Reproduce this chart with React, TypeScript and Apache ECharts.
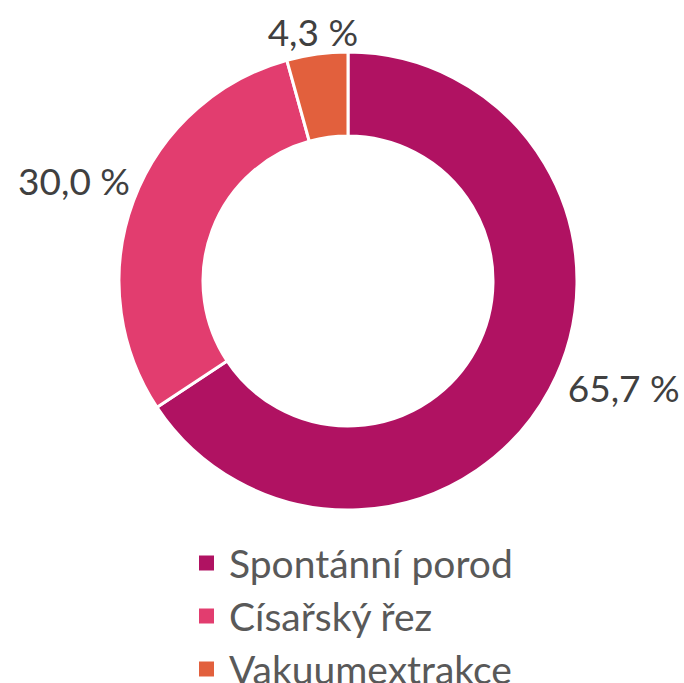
import React, { useEffect, useRef } from "react";
import * as echarts from "echarts";

const categories = ["Spontánní porod", "Císařský řez", "Vakuumextrakce"];
const values = [65.7, 30.0, 4.3];
const colors = ["#B01262", "#E23D6F", "#E2603D"];

// small label nudges (px) relative to ECharts' outside label anchor
const labelNudgeX = [6, 9, 47];
const labelNudgeY = [-6, -17, -15];

export default function App() {
  const ref = useRef<HTMLDivElement>(null);
  useEffect(() => {
    document.body.style.margin = "0";
    const chart = echarts.init(ref.current!, undefined, { renderer: "svg" });
    chart.setOption({
      animation: false,
      backgroundColor: "#ffffff",
      color: colors,
      legend: {
        orient: "vertical",
        left: 197,
        top: 543,
        height: 170,
        padding: 0,
        icon: "rect",
        itemWidth: 17,
        itemHeight: 17,
        itemGap: 13,
        data: categories,
        textStyle: {
          fontFamily: "Lato",
          fontSize: 39,
          lineHeight: 40,
          color: "#595959",
          padding: [0, 0, 0, 9],
        },
      },
      series: [
        {
          type: "pie",
          center: [348, 281],
          radius: [145, 229],
          startAngle: 90,
          clockwise: true,
          avoidLabelOverlap: false,
          itemStyle: { borderColor: "#ffffff", borderWidth: 3 },
          label: {
            show: true,
            position: "outside",
            formatter: (p: any) => p.value.toFixed(1).replace(".", ",") + " %",
            fontFamily: "Lato",
            fontSize: 37,
            color: "#404040",
            distanceToLabelLine: 5,
          },
          labelLine: { show: false, length: 8, length2: 0 },
          labelLayout: (p: any) => ({
            dx: labelNudgeX[p.dataIndex],
            dy: labelNudgeY[p.dataIndex],
          }),
          emphasis: { disabled: true },
          data: categories.map((name, i) => ({ name, value: values[i] })),
        },
      ],
    });
    return () => chart.dispose();
  }, []);
  return <div ref={ref} style={{ width: 684, height: 683 }} />;
}
